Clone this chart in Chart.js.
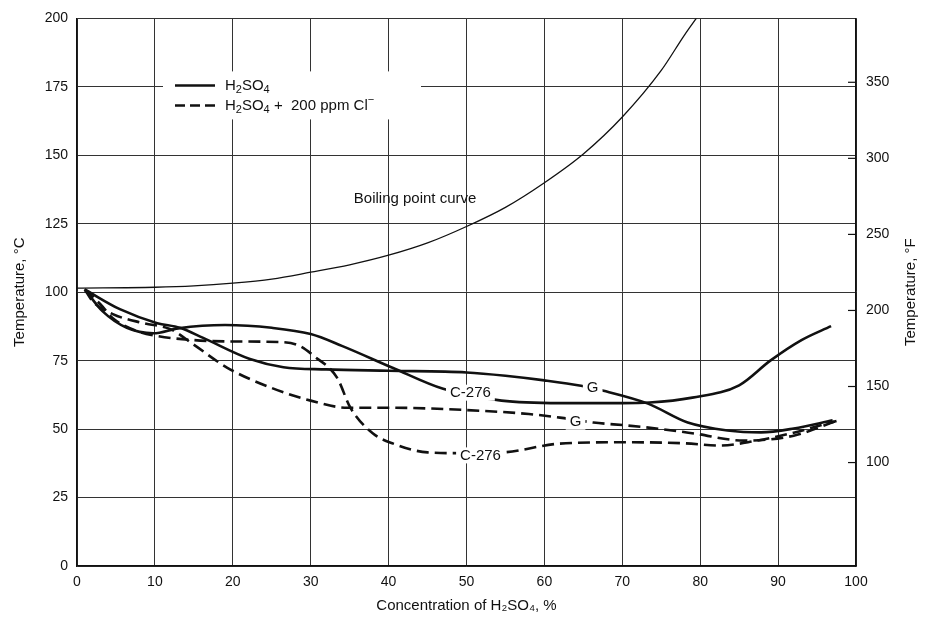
<!DOCTYPE html>
<html>
<head>
<meta charset="utf-8">
<script src="https://cdn.jsdelivr.net/npm/chart.js@4.4.1/dist/chart.umd.min.js"></script>
<style>
  body { margin: 0; background: #fff; }
  canvas { display: block; }
</style>
</head>
<body>
<canvas id="corrosionChart" width="935" height="618"></canvas>
<script>
// ---------------- data ----------------
// x = concentration of H2SO4 (%), y = temperature (°C)

// boiling point curve
var boilConc = [0, 10, 15, 20, 25, 30, 35, 40, 45, 50, 55, 60, 65, 70, 75, 78, 80, 82];
var boilTemp = [101.5, 101.8, 102.3, 103.3, 104.8, 107.3, 110, 113.5, 118, 124, 131, 140, 150.5, 164, 181, 194, 202, 210];

// C-276 in H2SO4 (solid)
var c276Conc = [1, 3.3, 6.4, 9.8, 13, 19, 25, 30, 34, 40.5, 47, 54.5, 62, 70, 73.5, 79, 85, 89, 93, 96.8];
var c276Temp = [101, 93, 87, 85, 86.8, 88, 87, 84.7, 80.4, 72.4, 64.7, 60.4, 59.5, 59.5, 59.7, 61.5, 66, 75, 82.5, 87.6];

// G in H2SO4 (solid)
var gConc = [1, 5.5, 10.3, 13.2, 16.2, 22.2, 26.5, 32, 40, 50, 55, 60, 64.7, 67.6, 73.3, 78.4, 83.5, 87.8, 92, 97];
var gTemp = [101, 93.8, 88.7, 87, 83.3, 75.6, 72.6, 71.8, 71.3, 70.7, 69.5, 67.8, 65.8, 64, 59.3, 52.4, 49.5, 48.8, 50.2, 53.2];

// C-276 in H2SO4 + 200 ppm Cl- (dashed)
var c276ClConc = [1, 3, 4.6, 7.7, 10.3, 15, 20, 26, 28.5, 30.5, 33.4, 35.1, 38, 40.6, 45, 50, 54.8, 62, 70.7, 78, 82.6, 86.9, 92, 97.5];
var c276ClTemp = [101, 95.6, 90.5, 85.8, 84, 82.5, 82, 81.8, 80.5, 76.5, 68.7, 57.8, 48.4, 44.7, 41.5, 41.2, 41.5, 44.7, 45.2, 44.8, 44, 45.6, 48.7, 53];

// G in H2SO4 + 200 ppm Cl- (dashed)
var gClConc = [1, 2, 4.6, 8.5, 12, 14.9, 19.3, 25, 30, 34.7, 40, 51.8, 58, 62, 66.3, 70.7, 75, 79.2, 85.6, 92, 97.5];
var gClTemp = [101, 96.7, 92, 88.7, 86.5, 81, 72.4, 65, 60.4, 57.8, 57.8, 56.7, 55.5, 54.2, 52.4, 51.3, 50, 48.4, 45.8, 47.6, 53];

// tick values
var concTicks = [0, 10, 20, 30, 40, 50, 60, 70, 80, 90, 100];
var celsiusTicks = [0, 25, 50, 75, 100, 125, 150, 175, 200];
var fahrenheitTicks = [100, 150, 200, 250, 300, 350];

// labels written on the curves
var curveLabels = ['C-276', 'G', 'G', 'C-276', 'Boiling point curve'];
var labelConc = [50.5, 66.2, 64, 51.8, 43.4];
var labelTemp = [63.3, 65.1, 52.7, 40.4, 134.2];
var labelBreaksLine = [true, true, true, true, false];

// ---------------- helpers ----------------
var INK = '#111';
var FONT = '"Liberation Sans", Arial, sans-serif';
var NARROW = '"Liberation Sans Narrow", "Liberation Sans", Arial, sans-serif';

function toPoints(xs, ys) {
  return xs.map(function (v, i) { return { x: v, y: ys[i] }; });
}

function toF(c) { return c * 9 / 5 + 32; }

// draw text with sub/superscript parts: [[text, 'n'|'sub'|'sup'], ...]
function richText(ctx, parts, x, y, size) {
  ctx.textAlign = 'left';
  ctx.textBaseline = 'middle';
  parts.forEach(function (p) {
    var s = p[1] === 'n' ? size : Math.round(size * 0.72);
    var dy = p[1] === 'sub' ? size * 0.32 : (p[1] === 'sup' ? -size * 0.35 : 0);
    ctx.font = s + 'px ' + FONT;
    ctx.fillText(p[0], x, y + dy);
    x += ctx.measureText(p[0]).width;
  });
}

// ---------------- overlay: curve labels, legend, right axis ----------------
var overlay = {
  id: 'overlay',
  afterDatasetsDraw: function (chart) {
    var ctx = chart.ctx, area = chart.chartArea;
    var x = chart.scales.x, y = chart.scales.y, y2 = chart.scales.y2;
    ctx.save();

    // curve labels
    ctx.font = '15px ' + FONT;
    ctx.textAlign = 'center';
    ctx.textBaseline = 'middle';
    curveLabels.forEach(function (t, i) {
      var px = x.getPixelForValue(labelConc[i]);
      var py = y.getPixelForValue(labelTemp[i]);
      if (labelBreaksLine[i]) {
        var w = ctx.measureText(t).width;
        ctx.fillStyle = '#fff';
        ctx.fillRect(px - w / 2 - 4, py - 8, w + 8, 16);
      }
      ctx.fillStyle = INK;
      ctx.fillText(t, px, py);
    });

    // legend box
    var lx = area.left + 98, ly = area.top + 67;
    ctx.fillStyle = '#fff';
    ctx.fillRect(lx - 12, ly - 14, 258, 48);
    ctx.strokeStyle = INK;
    ctx.lineWidth = 2.5;
    ctx.beginPath();
    ctx.moveTo(lx, ly); ctx.lineTo(lx + 40, ly);
    ctx.stroke();
    ctx.setLineDash([10, 5]);
    ctx.beginPath();
    ctx.moveTo(lx, ly + 20); ctx.lineTo(lx + 40, ly + 20);
    ctx.stroke();
    ctx.setLineDash([]);
    ctx.fillStyle = INK;
    richText(ctx, [['H', 'n'], ['2', 'sub'], ['SO', 'n'], ['4', 'sub']], lx + 50, ly, 15);
    richText(ctx, [['H', 'n'], ['2', 'sub'], ['SO', 'n'], ['4', 'sub'], [' +  200 ppm Cl', 'n'], ['\u2212', 'sup']], lx + 50, ly + 20, 15);

    // right axis tick marks point inward
    ctx.lineWidth = 1.2;
    ctx.strokeStyle = INK;
    fahrenheitTicks.forEach(function (v) {
      var py = y2.getPixelForValue(v);
      ctx.beginPath();
      ctx.moveTo(area.right - 8, py); ctx.lineTo(area.right, py);
      ctx.stroke();
    });

    // right axis title, reading upward
    ctx.translate(911, (area.top + area.bottom) / 2);
    ctx.rotate(-Math.PI / 2);
    ctx.font = '15px ' + FONT;
    ctx.textAlign = 'center';
    ctx.textBaseline = 'middle';
    ctx.fillText('Temperature, \u00B0F', 0, 0);
    ctx.restore();
  }
};

function materialLine(label, xs, ys, dashed) {
  return {
    label: label,
    data: toPoints(xs, ys),
    borderColor: INK,
    borderWidth: 2.6,
    borderDash: dashed ? [12, 6] : [],
    pointRadius: 0,
    fill: false,
    cubicInterpolationMode: 'monotone'
  };
}

var ctx = document.getElementById('corrosionChart').getContext('2d');

var corrosionChart = new Chart(ctx, {
  type: 'line',
  data: {
    datasets: [
      {
        label: 'Boiling point curve',
        data: toPoints(boilConc, boilTemp),
        borderColor: INK,
        borderWidth: 1.3,
        pointRadius: 0,
        fill: false,
        cubicInterpolationMode: 'monotone'
      },
      materialLine('C-276, H2SO4', c276Conc, c276Temp, false),
      materialLine('G, H2SO4', gConc, gTemp, false),
      materialLine('C-276, H2SO4 + Cl', c276ClConc, c276ClTemp, true),
      materialLine('G, H2SO4 + Cl', gClConc, gClTemp, true)
    ]
  },
  options: {
    responsive: false,
    animation: false,
    devicePixelRatio: 1,
    layout: { padding: { top: 16, left: 0, right: 0, bottom: 0 } },
    plugins: {
      legend: { display: false },
      tooltip: { enabled: false }
    },
    scales: {
      x: {
        type: 'linear',
        min: 0,
        max: 100,
        afterBuildTicks: function (s) { s.ticks = concTicks.map(function (v) { return { value: v }; }); },
        afterFit: function (s) { s.height = 52; },
        grid: { color: '#333', lineWidth: 1, drawTicks: false },
        border: { color: INK, width: 1.5 },
        ticks: { color: INK, padding: 8, font: { family: NARROW, size: 14 } },
        title: {
          display: true,
          text: 'Concentration of H\u2082SO\u2084, %',
          color: INK,
          font: { family: FONT, size: 15 },
          padding: { top: 0, bottom: 3 }
        }
      },
      y: {
        position: 'left',
        min: 0,
        max: 200,
        afterBuildTicks: function (s) { s.ticks = celsiusTicks.map(function (v) { return { value: v }; }); },
        afterFit: function (s) { s.width = 77; },
        grid: { color: '#333', lineWidth: 1, drawTicks: false },
        border: { color: INK, width: 1.5 },
        ticks: { color: INK, padding: 9, font: { family: NARROW, size: 14 } },
        title: {
          display: true,
          text: 'Temperature, \u00B0C',
          color: INK,
          font: { family: FONT, size: 15 },
          padding: { top: 11, bottom: 0 }
        }
      },
      y2: {
        position: 'right',
        min: toF(0),
        max: toF(200),
        afterBuildTicks: function (s) { s.ticks = fahrenheitTicks.map(function (v) { return { value: v }; }); },
        afterFit: function (s) { s.width = 79; },
        grid: { display: false, drawTicks: false },
        border: { color: INK, width: 1.5 },
        ticks: { color: INK, padding: 10, font: { family: NARROW, size: 14 } }
      }
    }
  },
  plugins: [overlay]
});
</script>
</body>
</html>
